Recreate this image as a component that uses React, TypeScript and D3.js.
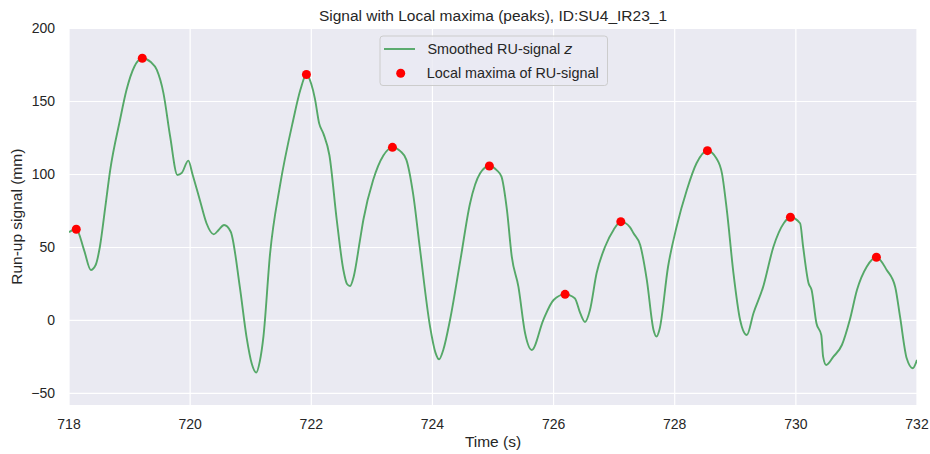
import React from "react";
import * as d3 from "d3";

const times = [
  718.0, 718.12, 718.25, 718.36, 718.44, 718.51, 718.6, 718.68, 718.84, 718.95,
  719.08, 719.21, 719.35, 719.45, 719.56, 719.67, 719.79, 719.86, 719.97, 720.04,
  720.16, 720.27, 720.39, 720.47, 720.56, 720.67, 720.82, 720.93, 721.02, 721.09,
  721.15, 721.21, 721.32, 721.48, 721.7, 721.82, 721.92, 722.0, 722.06, 722.13,
  722.2, 722.3, 722.42, 722.53, 722.59, 722.64, 722.7, 722.8, 722.86, 723.02,
  723.19, 723.34, 723.47, 723.57, 723.68, 723.79, 723.96, 724.05, 724.11, 724.18,
  724.29, 724.46, 724.62, 724.79, 724.94, 725.06, 725.14, 725.23, 725.31, 725.42,
  725.53, 725.64, 725.83, 726.0, 726.19, 726.35, 726.44, 726.52, 726.6, 726.71,
  726.85, 726.99, 727.11, 727.26, 727.32, 727.43, 727.54, 727.65, 727.7, 727.75,
  727.89, 728.03, 728.2, 728.36, 728.54, 728.69, 728.78, 728.86, 728.97, 729.08,
  729.19, 729.3, 729.46, 729.63, 729.8, 729.91, 730.07, 730.12, 730.21, 730.26,
  730.34, 730.42, 730.45, 730.5, 730.62, 730.76, 730.89, 731.01, 731.17, 731.33,
  731.5, 731.64, 731.72, 731.83, 731.93, 732.0,
];

const signal = [
  60.5, 62.5, 48, 34.6, 38, 50.5, 78, 103, 137, 158,
  174, 179.6, 177, 171.6, 155.6, 126, 99.7, 101, 109.5, 100,
  82.5, 66.6, 59, 62, 65.4, 60.8, 23, -11, -30, -35.7,
  -28, -11, 46, 91.6, 137, 158, 168.5, 162, 152, 135,
  128, 113, 69, 34.6, 25, 23.6, 30, 54, 69, 96,
  113, 118.6, 116, 110, 87, 50.5, -4, -22, -26.6, -20,
  0.3, 41, 80, 101, 105.8, 103, 98.5, 75.7, 43.7, 23,
  -8.8, -20.2, 0.3, 14, 17.9, 15.2, 5, -1, 7, 32.3,
  50.5, 62, 67.7, 64, 59.7, 51.7, 27.7, -6.5, -11, -6,
  36.8, 64, 89.4, 107.7, 116.3, 111, 100.8, 75.7, 32.3, 0.3,
  -10, 5, 23, 50.5, 66.6, 70.7, 66.6, 50.5, 25.5, 20.9,
  -1.9, -10, -24.8, -30.5, -24.8, -16.8, 0.3, 21, 36.8, 43.3,
  34.6, 23, 2.6, -25.9, -32.7, -27,
];

const peakTimes = [718.12, 719.21, 721.92, 723.34, 724.94, 726.19, 727.11, 728.54, 729.91, 731.33];
const peakValues = [62.5, 179.6, 168.5, 118.6, 105.8, 17.9, 67.7, 116.3, 70.7, 43.3];

const xTicks = [718, 720, 722, 724, 726, 728, 730, 732];
const yTicks = [-50, 0, 50, 100, 150, 200];

const W = 930;
const H = 454;
const M = { left: 69, right: 917, top: 28.5, bottom: 405 };
const FONT = "'Liberation Sans', Arial, sans-serif";
const TXT = "#262626";

export default function App() {
  const x = d3.scaleLinear().domain([718, 732]).range([M.left, M.right]);
  const y = d3.scaleLinear().domain([-57.9, 200]).range([M.bottom, M.top]);
  const pts: [number, number][] = times.map((t, i) => [t, signal[i]]);
  const line = d3
    .line<[number, number]>()
    .x((d) => x(d[0]))
    .y((d) => y(d[1]))
    .curve(d3.curveMonotoneX);

  return (
    <svg width={W} height={H} style={{ position: "absolute", left: 0, top: 0 }} fontFamily={FONT}>
      <rect x={0} y={0} width={W} height={H} fill="#ffffff" />
      <defs>
        <clipPath id="plotclip">
          <rect x={M.left} y={M.top} width={M.right - M.left} height={M.bottom - M.top} />
        </clipPath>
      </defs>
      <rect x={M.left} y={M.top} width={M.right - M.left} height={M.bottom - M.top} fill="#EAEAF2" />
      {xTicks.map((t) => (
        <line key={"gx" + t} x1={x(t)} x2={x(t)} y1={M.top} y2={M.bottom} stroke="#ffffff" strokeWidth={1.2} />
      ))}
      {yTicks.map((t) => (
        <line key={"gy" + t} x1={M.left} x2={M.right} y1={y(t)} y2={y(t)} stroke="#ffffff" strokeWidth={1.2} />
      ))}
      <g clipPath="url(#plotclip)">
        <path d={line(pts) || ""} fill="none" stroke="#55A868" strokeWidth={1.9} strokeLinejoin="round" />
        {peakTimes.map((t, i) => (
          <circle key={"p" + i} cx={x(t)} cy={y(peakValues[i])} r={4.5} fill="#ff0000" />
        ))}
      </g>
      {xTicks.map((t) => (
        <text key={"tx" + t} x={x(t)} y={429.3} textAnchor="middle" fontSize={14} fill={TXT}>
          {t}
        </text>
      ))}
      {yTicks.map((t) => (
        <text key={"ty" + t} x={55} y={y(t) + 4.5} textAnchor="end" fontSize={14} fill={TXT}>
          {t < 0 ? "\u2212" + Math.abs(t) : t}
        </text>
      ))}
      <text x={(M.left + M.right) / 2} y={447} textAnchor="middle" fontSize={15.5} fill={TXT}>
        Time (s)
      </text>
      <text
        transform={`translate(22,${(M.top + M.bottom) / 2}) rotate(-90)`}
        textAnchor="middle"
        fontSize={15.5}
        fill={TXT}
      >
        Run-up signal (mm)
      </text>
      <text x={(M.left + M.right) / 2} y={20.5} textAnchor="middle" fontSize={15.5} fill={TXT}>
        Signal with Local maxima (peaks), ID:SU4_IR23_1
      </text>
      <g>
        <rect x={380} y={36} width={227.5} height={49.5} rx={3} fill="#EAEAF2" fillOpacity={0.8} stroke="#cccccc" strokeWidth={1} />
        <line x1={384} x2={415} y1={49} y2={49} stroke="#55A868" strokeWidth={1.9} />
        <text x={427.5} y={54} fontSize={14.4} fill={TXT}>
          Smoothed RU-signal <tspan fontStyle="italic" fontFamily="'DejaVu Sans', sans-serif">z</tspan>
        </text>
        <circle cx={400.7} cy={73.3} r={4.5} fill="#ff0000" />
        <text x={426.7} y={78} fontSize={14.4} fill={TXT}>
          Local maxima of RU-signal
        </text>
      </g>
    </svg>
  );
}
